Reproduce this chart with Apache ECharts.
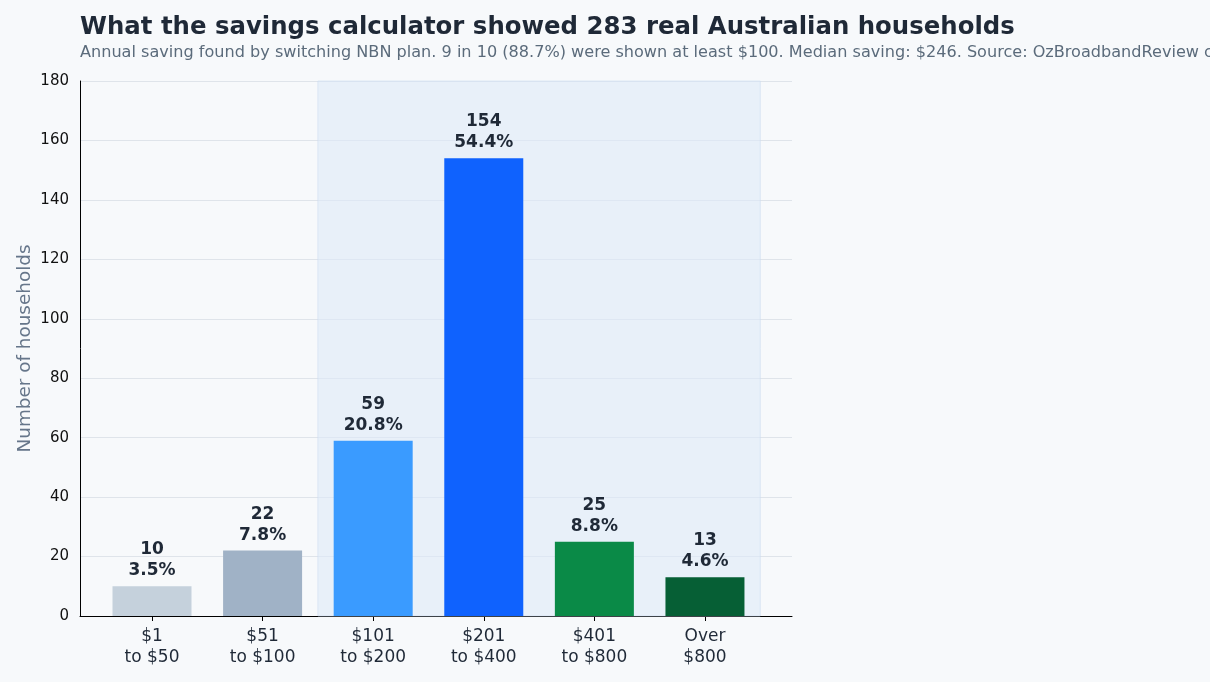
<!DOCTYPE html>
<html>
<head>
<meta charset="utf-8">
<script src="https://cdn.jsdelivr.net/npm/echarts@6/dist/echarts.min.js"></script>
<style>
  html, body { margin: 0; padding: 0; background: #f7f9fb; }
  #main { width: 1210px; height: 682px; }
</style>
</head>
<body>
<div id="main"></div>
<script>
// data
const categories = ['$1\nto $50', '$51\nto $100', '$101\nto $200', '$201\nto $400', '$401\nto $800', 'Over\n$800'];
const households = [10, 22, 59, 154, 25, 13];
const shares = ['3.5%', '7.8%', '20.8%', '54.4%', '8.8%', '4.6%'];
const barColors = ['#c5d1dc', '#a0b2c6', '#3a9bff', '#0f62fe', '#0a8a47', '#065f35'];
const yTicks = [0, 20, 40, 60, 80, 100, 120, 140, 160, 180];
// the "$100 or more" band, in category positions
const highlightBand = [1.5, 5.5];

const font = 'DejaVu Sans';
const ink = '#1f2937';

let chart = echarts.init(document.getElementById('main'));

let barData = households.map(function (v, i) {
    return {
        value: [i, v],
        itemStyle: { color: barColors[i] },
        label: { formatter: v + '\n' + shares[i] }
    };
});

chart.setOption({
    animation: false,
    backgroundColor: '#f7f9fb',
    textStyle: { fontFamily: font },
    title: [{
        text: 'What the savings calculator showed 283 real Australian households',
        left: 75, top: 11,
        textStyle: { fontFamily: font, fontSize: 24.4, fontWeight: 'bold', color: ink }
    }, {
        text: 'Annual saving found by switching NBN plan. 9 in 10 (88.7%) were shown at least $100. Median saving: $246. Source: OzBroadbandReview calculator data.',
        left: 75, top: 40,
        textStyle: { fontFamily: font, fontSize: 16.1, fontWeight: 'normal', color: '#5b6b7b' }
    }],
    grid: { left: 80, right: 418, top: 81, bottom: 66 },
    xAxis: {
        type: 'value',
        min: -0.651,
        max: 5.787,
        splitLine: { show: false },
        axisLine: { show: true, onZero: false, lineStyle: { color: '#000', width: 1 } },
        axisTick: { show: true, customValues: [0, 1, 2, 3, 4, 5], length: 5, lineStyle: { color: '#000' } },
        axisLabel: {
            customValues: [0, 1, 2, 3, 4, 5],
            formatter: function (v) { return categories[Math.round(v)]; },
            color: ink, fontSize: 17, lineHeight: 21, margin: 10, fontFamily: font
        }
    },
    yAxis: {
        type: 'value',
        min: 0, max: 180, interval: 20,
        name: 'Number of households',
        nameLocation: 'middle',
        nameGap: 46,
        nameMoveOverlap: false,
        nameTextStyle: { color: '#66768a', fontSize: 18.4, fontFamily: font },
        axisLine: { show: true, onZero: false, lineStyle: { color: '#000', width: 1 } },
        axisTick: { show: false },
        axisLabel: { color: '#111', fontSize: 15, margin: 11, fontFamily: font,
            formatter: function (v) { return yTicks.indexOf(v) >= 0 ? String(v) : ''; } },
        splitLine: { lineStyle: { color: '#dfe4ea', width: 1 } }
    },
    series: [{
        type: 'bar',
        barWidth: 79,
        data: barData,
        z: 3,
        label: {
            show: true,
            position: 'top',
            distance: 5,
            fontFamily: font,
            fontSize: 17,
            fontWeight: 'bold',
            lineHeight: 21,
            color: ink
        },
        markArea: {
            silent: true,
            z: 1,
            itemStyle: { color: 'rgba(222,234,249,0.6)', borderColor: 'rgba(205,220,240,0.6)', borderWidth: 1 },
            data: [[{ xAxis: highlightBand[0], yAxis: 0 }, { xAxis: highlightBand[1], yAxis: 180 }]]
        }
    }]
});
</script>
</body>
</html>
